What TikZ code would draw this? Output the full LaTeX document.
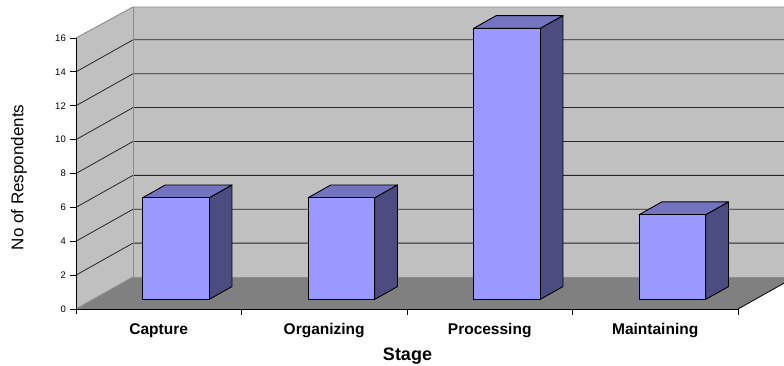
\documentclass[tikz,border=0pt]{standalone}
\usepackage{fontspec}
\setmainfont{Liberation Sans}
\definecolor{wallc}{HTML}{C0C0C0}
\definecolor{floorc}{HTML}{808080}
\definecolor{edgec}{HTML}{8C8C8C}
\definecolor{barfront}{HTML}{9999FF}
\definecolor{bartop}{HTML}{7373C0}
\definecolor{barside}{HTML}{4C4C80}
\tikzset{
  wall/.style={fill=wallc, draw=none},
  walledge/.style={draw=edgec, line width=0.9pt},
  grid/.style={draw=black!85, line width=0.8pt},
  axisline/.style={draw=black, line width=0.9pt},
  barface/.style={draw=black, line width=0.9pt, line join=round},
  ticklab/.style={anchor=east, inner sep=0pt, font=\fontsize{9.5}{10}\selectfont},
  catlab/.style={anchor=base, inner sep=0pt, font=\fontsize{15.5}{16}\selectfont\bfseries},
  titlelab/.style={anchor=base, inner sep=0pt, font=\fontsize{18}{18}\selectfont\bfseries},
  ylab/.style={rotate=90, inner sep=0pt, font=\fontsize{17}{17}\selectfont}
}
\begin{document}
\begin{tikzpicture}[x=1pt,y=-1pt]
\useasboundingbox (0,0) rectangle (784,366);
% walls
\fill[wall] (133,7) rectangle (784,277);
\fill[wall] (76,309) -- (76,38) -- (133,7) -- (133,277) -- cycle;
% floor
\fill[floorc] (76,309) -- (738,309) -- (795,277) -- (133,277) -- cycle;
% gridlines
\foreach \v in {2,4,...,14}{
  \pgfmathsetmacro\yy{309-\v*16.94}
  \draw[grid] (76,\yy) -- (133,\yy-32) -- (784,\yy-32);
}
% wall edges
\draw[walledge] (76,38) -- (133,7) -- (784,7);
\draw[walledge] (133,7) -- (133,277) -- (784,277);
\draw[walledge] (76,309) -- (133,277);
\draw[draw=black, line width=0.8pt] (738,309) -- (795,277);
% axes
\draw[axisline] (76,38) -- (76,314);
\draw[axisline] (76,309) -- (738,309);
\foreach \v in {0,2,...,16}{
  \pgfmathsetmacro\yy{309-\v*16.94}
  \draw[axisline] (70,\yy) -- (76,\yy);
  \node[ticklab] (t\v) at (66,\yy) {\v};
}
\foreach \i in {1,2,3,4}{
  \pgfmathsetmacro\xx{76+\i*165.5}
  \draw[axisline] (\xx,309) -- (\xx,315);
}
% bars
\foreach \i/\v in {0/6,1/6,2/16,3/5}{
  \pgfmathsetmacro\xc{76+(\i+0.5)*165.5+17.1}
  \pgfmathsetmacro\xl{\xc-33.3}
  \pgfmathsetmacro\xr{\xc+33.3}
  \pgfmathsetmacro\yb{299.4}
  \pgfmathsetmacro\yt{299.4-\v*16.94}
  \draw[barface, fill=barside] (\xr,\yb) -- (\xr+22.8,\yb-12.8) -- (\xr+22.8,\yt-12.8) -- (\xr,\yt) -- cycle;
  \draw[barface, fill=bartop] (\xl,\yt) -- (\xl+22.8,\yt-12.8) -- (\xr+22.8,\yt-12.8) -- (\xr,\yt) -- cycle;
  \draw[barface, fill=barfront] (\xl,\yb) rectangle (\xr,\yt);
}
% labels
\node[catlab] (c1) at (158.7,334) {Capture};
\node[catlab] (c2) at (324.2,334) {Organizing};
\node[catlab] (c3) at (489.7,334) {Processing};
\node[catlab] (c4) at (655.2,334) {Maintaining};
\node[titlelab] (xt) at (407.5,360) {Stage};
\node[ylab] (yt) at (19,177.5) {No of Respondents};
\end{tikzpicture}
\end{document}
